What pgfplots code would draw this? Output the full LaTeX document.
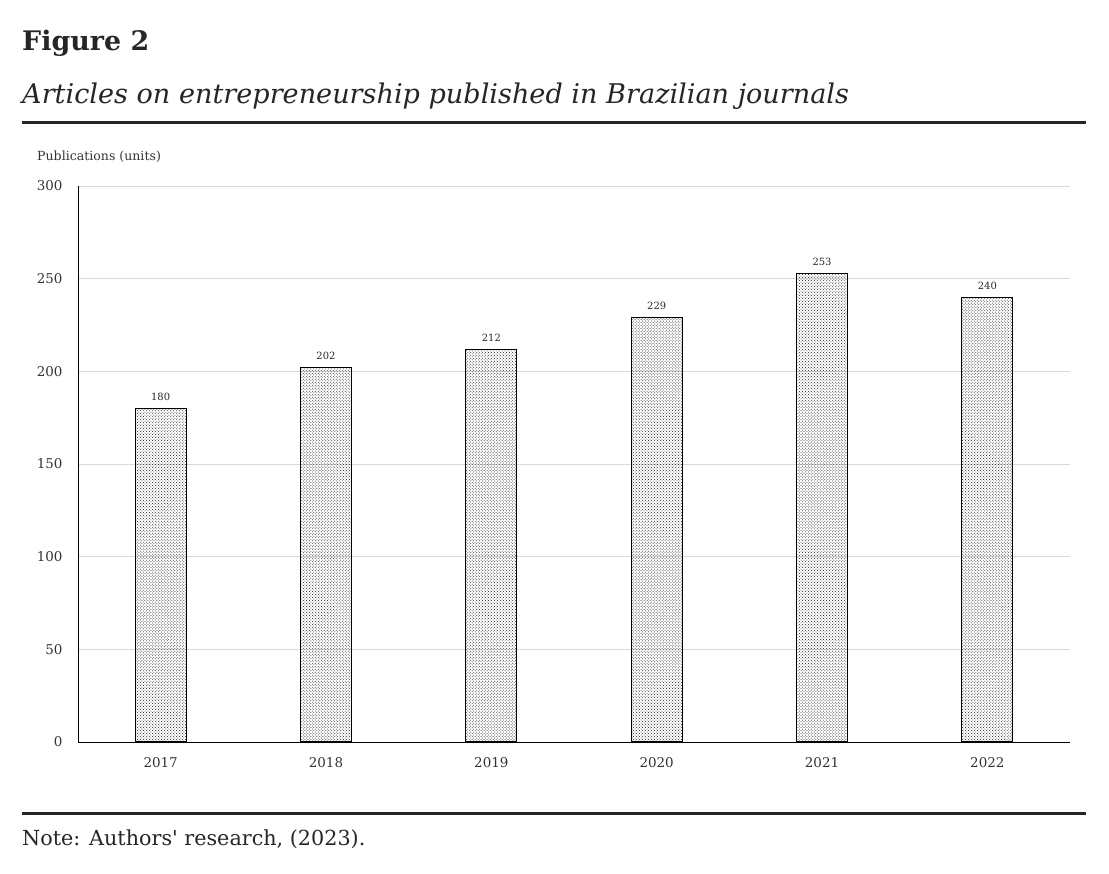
\documentclass[border=0pt]{standalone}
\usepackage{fontspec}
\setmainfont{DejaVu Serif}
\usepackage{pgfplots}
\pgfplotsset{compat=1.18}
\usetikzlibrary{patterns}
\begin{document}
\begin{tikzpicture}[x=1bp,y=-1bp]
\path[use as bounding box] (0,0) rectangle (1109,874);
\node[anchor=base west,inner sep=0,font=\fontsize{27}{30}\selectfont\bfseries,text=black!85] at (22,50) {Figure 2};
\node[anchor=base west,inner sep=0,font=\fontsize{27.2}{30}\selectfont\itshape,text=black!85] at (22,103) {Articles on entrepreneurship published in Brazilian journals};
\draw[line width=3bp,black!85] (22,122) -- (1086,122);
\draw[line width=3bp,black!85] (22,813) -- (1086,813);
\node[anchor=base west,inner sep=0,font=\fontsize{20.8}{24}\selectfont,text=black!85] at (22,845) {Note: Authors\textquotesingle\ research, (2023).};
\node[anchor=base west,inner sep=0,font=\fontsize{12.6}{14}\selectfont,text=black!80] at (37,160) {Publications (units)};
\begin{axis}[
  at={(78bp,-742bp)}, anchor=south west,
  width=992bp, height=556bp, scale only axis,
  xmin=-0.5, xmax=5.5, ymin=0, ymax=300,
  axis x line*=bottom, axis y line*=left,
  axis line style={line width=1bp,black},
  ytick={0,50,100,150,200,250,300},
  xtick={0,1,2,3,4,5},
  xticklabels={2017,2018,2019,2020,2021,2022},
  major tick length=0pt,
  ymajorgrids, grid style={black!15,line width=0.8bp},
  tick label style={font=\fontsize{13.5}{15}\selectfont,text=black!80},
  yticklabel style={xshift=-12bp},
  xticklabel style={yshift=-12bp},
  /pgf/number format/assume math mode=true,
  nodes near coords,
  every node near coord/.append style={font=\fontsize{10}{11}\selectfont,text=black!85,yshift=4bp},
]
\addplot[ybar, bar width=51bp, draw=black, line width=1.2bp, pattern=crosshatch dots, pattern color=black!85]
coordinates {(0,180) (1,202) (2,212) (3,229) (4,253) (5,240)};
\end{axis}
\end{tikzpicture}
\end{document}
